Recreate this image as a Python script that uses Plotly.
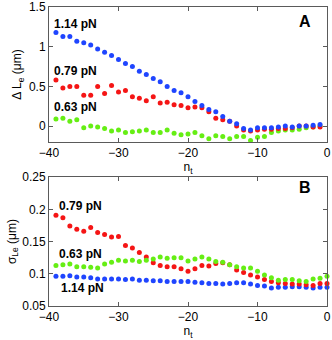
import plotly.graph_objects as go

# ---- data ----
n_top = list(range(-39, 0))          # -39 .. -1
n_bot = list(range(-39, 1))          # -39 .. 0

dL_114 = [1.18, 1.13, 1.13, 1.07, 1.05, 1.02, 0.97, 0.93, 0.89, 0.84,
          0.79, 0.75, 0.69, 0.65, 0.60, 0.56, 0.50, 0.45, 0.42, 0.37,
          0.31, 0.26, 0.21, 0.18, 0.12, 0.06, 0.03, -0.03, -0.05, -0.02,
          -0.02, -0.02, -0.01, 0.00, -0.01, 0.00, 0.00, 0.01, 0.02]
dL_079 = [0.58, 0.48, 0.50, 0.50, 0.39, 0.39, 0.50, 0.41, 0.51, 0.43,
          0.45, 0.37, 0.35, 0.32, 0.37, 0.29, 0.30, 0.27, 0.26, 0.23,
          0.24, 0.23, 0.18, 0.10, 0.08, 0.06, 0.00, -0.05, -0.06, -0.05,
          -0.04, -0.04, -0.03, -0.03, -0.02, 0.00, 0.00, -0.01, -0.01]
dL_063 = [0.09, 0.10, 0.06, 0.08, -0.02, 0.00, -0.01, -0.03, -0.06, -0.05,
          -0.08, -0.07, -0.06, -0.05, -0.08, -0.08, -0.05, -0.09, -0.11, -0.10,
          -0.08, -0.12, -0.16, -0.12, -0.13, -0.16, -0.13, -0.13, -0.18, -0.14,
          -0.13, -0.08, -0.06, -0.05, -0.05, -0.04, -0.02, -0.01, 0.00]

sg_079 = [0.191, 0.187, 0.174, 0.169, 0.166, 0.172, 0.164, 0.161, 0.157, 0.158,
          0.144, 0.140, 0.133, 0.126, 0.117, 0.113, 0.111, 0.111, 0.108, 0.104,
          0.108, 0.113, 0.112, 0.116, 0.117, 0.114, 0.106, 0.102, 0.098, 0.095,
          0.091, 0.088, 0.086, 0.085, 0.084, 0.084, 0.083, 0.082, 0.085, 0.085]
sg_063 = [0.113, 0.114, 0.115, 0.111, 0.111, 0.110, 0.109, 0.115, 0.118, 0.121,
          0.120, 0.121, 0.119, 0.121, 0.123, 0.126, 0.124, 0.125, 0.125, 0.120,
          0.123, 0.126, 0.123, 0.119, 0.118, 0.114, 0.111, 0.109, 0.109, 0.104,
          0.098, 0.094, 0.090, 0.091, 0.091, 0.089, 0.088, 0.092, 0.093, 0.096]
sg_114 = [0.096, 0.096, 0.097, 0.095, 0.095, 0.094, 0.092, 0.092, 0.092, 0.092,
          0.091, 0.092, 0.090, 0.090, 0.089, 0.089, 0.088, 0.088, 0.088, 0.088,
          0.087, 0.086, 0.085, 0.085, 0.084, 0.085, 0.086, 0.086, 0.084, 0.082,
          0.081, 0.078, 0.079, 0.079, 0.080, 0.080, 0.079, 0.078, 0.079, 0.079]

x_ticks = [-40, -30, -20, -10, 0]
x_ticklabels = ["\u221240", "\u221230", "\u221220", "\u221210", "0"]
yA_ticks = [0, 0.5, 1, 1.5]
yA_ticklabels = ["0", "0.5", "1", "1.5"]
yB_ticks = [0.05, 0.1, 0.15, 0.2, 0.25]
yB_ticklabels = ["0.05", "0.1", "0.15", "0.2", "0.25"]

BLUE = "#1f45ff"
RED = "#f51515"
GREEN = "#66ee14"
FONT = "Liberation Sans, Arial, sans-serif"

fig = go.Figure()

def add(x, y, color, xa, ya):
    fig.add_trace(go.Scatter(x=x, y=y, mode="markers", xaxis=xa, yaxis=ya,
                             marker=dict(color=color, size=5, line=dict(width=0)),
                             showlegend=False, hoverinfo="skip", cliponaxis=False))

add(n_top, dL_063, GREEN, "x", "y")
add(n_top, dL_079, RED, "x", "y")
add(n_top, dL_114, BLUE, "x", "y")
add(n_bot, sg_114, BLUE, "x2", "y2")
add(n_bot, sg_079, RED, "x2", "y2")
add(n_bot, sg_063, GREEN, "x2", "y2")

axis_common = dict(showline=True, linecolor="#5a5a5a", linewidth=1, mirror="allticks",
                   ticks="inside", ticklen=4, tickcolor="#5a5a5a", showgrid=False,
                   zeroline=False, automargin=False, tickfont=dict(size=12, color="#000"))

fig.update_layout(
    width=332, height=340,
    margin=dict(l=49, r=5, t=7, b=34),
    paper_bgcolor="white", plot_bgcolor="white",
    font=dict(family=FONT, size=12, color="#000"),
    xaxis=dict(domain=[0, 1], range=[-40, 0], anchor="y", tickvals=x_ticks,
               ticktext=x_ticklabels,
               title=dict(text="n<sub>t</sub>", standoff=0, font=dict(size=12)),
               **axis_common),
    yaxis=dict(domain=[0.5485, 1], range=[-0.2, 1.5], anchor="x", tickvals=yA_ticks,
               ticktext=yA_ticklabels,
               title=dict(text="\u0394 L<sub>e</sub> (\u03bcm)", standoff=4, font=dict(size=12)),
               **axis_common),
    xaxis2=dict(domain=[0, 1], range=[-40, 0], anchor="y2", tickvals=x_ticks,
                ticktext=x_ticklabels,
                title=dict(text="n<sub>t</sub>", standoff=0, font=dict(size=12)),
                **axis_common),
    yaxis2=dict(domain=[0, 0.431], range=[0.05, 0.25], anchor="x2", tickvals=yB_ticks,
                ticktext=yB_ticklabels,
                title=dict(text="\u03c3<sub>Le</sub> (\u03bcm)", standoff=3, font=dict(size=12)),
                **axis_common),
)

ann_font = dict(family=FONT, size=12, color="#000")
labels = [
    ("x", "y", -39.5, 1.29, "1.14 pN"),
    ("x", "y", -39.5, 0.69, "0.79 pN"),
    ("x", "y", -39.5, 0.245, "0.63 pN"),
    ("x2", "y2", -38.8, 0.2055, "0.79 pN"),
    ("x2", "y2", -38.8, 0.131, "0.63 pN"),
    ("x2", "y2", -38.6, 0.0785, "1.14 pN"),
]
for xr, yr, xv, yv, txt in labels:
    fig.add_annotation(x=xv, y=yv, xref=xr, yref=yr, text="<b>" + txt + "</b>",
                       showarrow=False, xanchor="left", yanchor="middle", font=ann_font)

fig.add_annotation(x=0.92, y=0.889, xref="x domain", yref="y domain", text="<b>A</b>",
                   showarrow=False, xanchor="center", yanchor="middle",
                   font=dict(family=FONT, size=16, color="#000"))
fig.add_annotation(x=0.92, y=0.922, xref="x2 domain", yref="y2 domain", text="<b>B</b>",
                   showarrow=False, xanchor="center", yanchor="middle",
                   font=dict(family=FONT, size=16, color="#000"))

fig.write_html("out.html", config={"displayModeBar": False},
               post_script="document.body.style.margin='0';document.body.style.overflow='hidden';")
